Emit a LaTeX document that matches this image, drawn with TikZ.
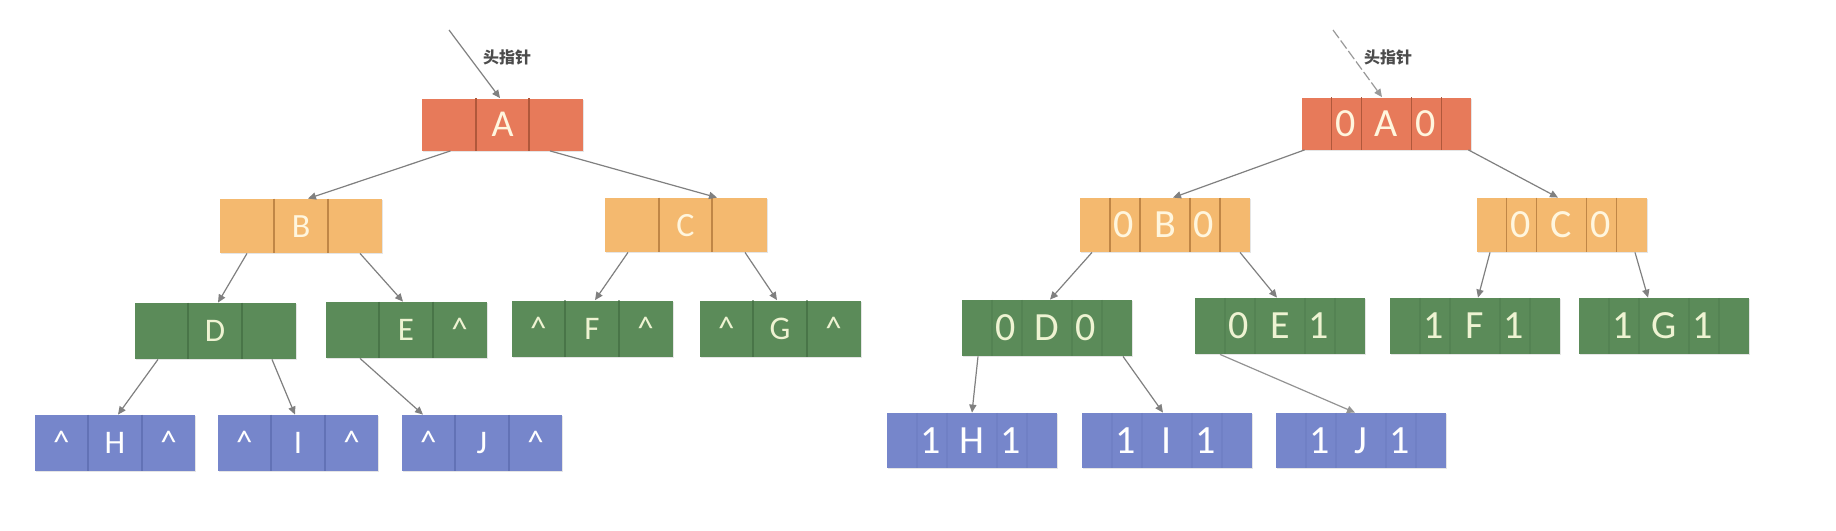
\documentclass[tikz,border=0pt]{standalone}
\usepackage{fontspec}
\setmainfont{Carlito}
\newfontfamily\cjk{Noto Sans CJK SC}
\usetikzlibrary{calc,arrows.meta,shadows}
\definecolor{cA}{HTML}{E77A5A}
\definecolor{cAd}{HTML}{B0583B}
\definecolor{cB}{HTML}{F4B96F}
\definecolor{cBd}{HTML}{C08646}
\definecolor{cG}{HTML}{5B8B59}
\definecolor{cGd}{HTML}{3C643B}
\definecolor{cU}{HTML}{7686CB}
\definecolor{cUd}{HTML}{5262A6}
\definecolor{ln}{HTML}{808080}
\definecolor{tcream}{HTML}{FFF6DE}
\definecolor{tgreen}{HTML}{EEF3D2}

\newcommand\tribox[6]{%
  \node[box,#3] (#1) at (#2) {};
  \draw[#3 div] ($(#1.north)+(-26.8,0)$) -- ($(#1.south)+(-26.8,0)$);
  \draw[#3 div] ($(#1.north)+(26.8,0)$) -- ($(#1.south)+(26.8,0)$);
  \if\relax\detokenize{#4}\relax\else\node[#3 txt] (#1l) at ($(#1.center)+(-53.7,0)$) {#4};\fi
  \if\relax\detokenize{#5}\relax\else\node[#3 txt] (#1m) at (#1.center) {#5};\fi
  \if\relax\detokenize{#6}\relax\else\node[#3 txt] (#1r) at ($(#1.center)+(53.7,0)$) {#6};\fi
}
\newcommand\pentbox[6]{%
  \node[box,#3] (#1) at (#2) {};
  \foreach \dx in {-55,-25,25,55} {\draw[#3 div] ($(#1.north)+(\dx,0)$) -- ($(#1.south)+(\dx,0)$);}
  \node[#3 txt] (#1l) at ($(#1.center)+(-41,0)$) {#4};
  \node[#3 txt] (#1m) at (#1.center) {#5};
  \node[#3 txt] (#1r) at ($(#1.center)+(39,0)$) {#6};
}

\begin{document}
\begin{tikzpicture}[x=0.5pt,y=-0.5pt,
  box/.style={rectangle, inner sep=0pt, draw=none,
    drop shadow={opacity=0.2, shadow xshift=0.7pt, shadow yshift=-0.7pt}},
  lA/.style={fill=cA, minimum width=80.5pt, minimum height=26pt},
  lA div/.style={draw=cAd, line width=0.9pt},
  lA txt/.style={text=tcream, inner sep=0pt, font=\fontsize{19}{20}\selectfont, text height=12.2pt, text depth=0pt},
  lB/.style={fill=cB, minimum width=81pt, minimum height=27pt},
  lB div/.style={draw=cBd, line width=0.9pt},
  lB txt/.style={text=tcream, inner sep=0pt, font=\fontsize{17}{18}\selectfont, text height=11pt, text depth=0pt},
  lG/.style={fill=cG, minimum width=80.5pt, minimum height=28pt},
  lG div/.style={draw=cGd, line width=0.8pt, opacity=0.55},
  lG txt/.style={text=tgreen, inner sep=0pt, font=\fontsize{16.5}{18}\selectfont, text height=10.6pt, text depth=0pt},
  lU/.style={fill=cU, minimum width=80pt, minimum height=28pt},
  lU div/.style={draw=cUd, line width=0.8pt, opacity=0.55},
  lU txt/.style={text=white, inner sep=0pt, font=\fontsize{16.5}{18}\selectfont, text height=10.6pt, text depth=0pt},
  rA/.style={fill=cA, minimum width=84.5pt, minimum height=26pt},
  rA div/.style={draw=cAd, line width=0.9pt},
  rA txt/.style={text=tcream, inner sep=0pt, font=\fontsize{20}{22}\selectfont, text height=12.9pt, text depth=0pt},
  rB/.style={fill=cB, minimum width=85pt, minimum height=27pt},
  rB div/.style={draw=cBd, line width=0.9pt},
  rB txt/.style={text=tcream, inner sep=0pt, font=\fontsize{20}{22}\selectfont, text height=12.9pt, text depth=0pt},
  rG/.style={fill=cG, minimum width=85pt, minimum height=28pt},
  rG div/.style={draw=cGd, line width=0.8pt, opacity=0.2},
  rG txt/.style={text=tgreen, inner sep=0pt, font=\fontsize{20}{22}\selectfont, text height=12.9pt, text depth=0pt},
  rU/.style={fill=cU, minimum width=85pt, minimum height=27.5pt},
  rU div/.style={draw=cUd, line width=0.8pt, opacity=0.15},
  rU txt/.style={text=white, inner sep=0pt, font=\fontsize{20}{22}\selectfont, text height=12.9pt, text depth=0pt},
  arr/.style={draw=ln, line width=0.6pt, -{Triangle[length=4pt,width=3.6pt]}},
  headlbl/.style={inner sep=0pt, text=black!70, font=\cjk\bfseries\fontsize{8}{9}\selectfont}
]
\fill[white] (0,0) rectangle (1836,530);
\useasboundingbox (0,0) rectangle (1836,530);

% ---------- left tree ----------
\tribox{A}{502.5,124.5}{lA}{}{A}{}
\tribox{B}{301,226}{lB}{}{B}{}
\tribox{C}{685.5,225}{lB}{}{C}{}
\tribox{D}{215,331}{lG}{}{D}{}
\tribox{E}{406,330}{lG}{}{E}{\textasciicircum}
\tribox{F}{592,328.5}{lG}{\textasciicircum}{F}{\textasciicircum}
\tribox{G}{780,328.5}{lG}{\textasciicircum}{G}{\textasciicircum}
\tribox{H}{115,443}{lU}{\textasciicircum}{H}{\textasciicircum}
\tribox{I}{298,443}{lU}{\textasciicircum}{I}{\textasciicircum}
\tribox{J}{482,443}{lU}{\textasciicircum}{J}{\textasciicircum}

\coordinate (hsL) at (449,30);
\node[headlbl] (hlL) at (507,57) {头指针};
\draw[arr] (hsL) -- ($(A.north)+(-2.5,0)$);
\draw[arr] ($(A.south)+(-52,0)$) -- ($(B.north)+(7,0)$);
\draw[arr] ($(A.south)+(47.5,0)$) -- ($(C.north)+(31.5,0)$);
\draw[arr] ($(B.south)+(-54,0)$) -- ($(D.north)+(3,0)$);
\draw[arr] ($(B.south)+(59,0)$) -- ($(E.north)+(-3,0)$);
\draw[arr] ($(C.south)+(-57.5,0)$) -- ($(F.north)+(3,0)$);
\draw[arr] ($(C.south)+(59.5,0)$) -- ($(G.north)+(-3,0)$);
\draw[arr] ($(D.south)+(-57,0)$) -- ($(H.north)+(3,0)$);
\draw[arr] ($(D.south)+(57,0)$) -- ($(I.north)+(-3,0)$);
\draw[arr] ($(E.south)+(-46,0)$) -- ($(J.north)+(-59,0)$);

% ---------- right tree ----------
\pentbox{A2}{1386.5,123.5}{rA}{0}{A}{0}
\pentbox{B2}{1165,225}{rB}{0}{B}{0}
\pentbox{C2}{1561.5,225}{rB}{0}{C}{0}
\pentbox{D2}{1047,328}{rG}{0}{D}{0}
\pentbox{E2}{1280,326}{rG}{0}{E}{1}
\pentbox{F2}{1475,326}{rG}{1}{F}{1}
\pentbox{G2}{1664,326}{rG}{1}{G}{1}
\pentbox{H2}{972,440.5}{rU}{1}{H}{1}
\pentbox{I2}{1167,440.5}{rU}{1}{I}{1}
\pentbox{J2}{1361,440.5}{rU}{1}{J}{1}

\coordinate (hsR) at (1333,30);
\node[headlbl] (hlR) at (1388,57) {头指针};
\draw[arr, draw=ln!80, dash pattern=on 5pt off 1.5pt] (hsR) -- ($(A2.north)+(-4.5,0)$);
\draw[arr] ($(A2.south west)+(3,0)$) -- ($(B2.north)+(8,0)$);
\draw[arr] ($(A2.south east)+(-3,0)$) -- ($(C2.north)+(-3.5,0)$);
\draw[arr] ($(B2.south)+(-73,0)$) -- ($(D2.north)+(3,0)$);
\draw[arr] ($(B2.south)+(75,0)$) -- ($(E2.north)+(-3,0)$);
\draw[arr] ($(C2.south)+(-71.5,0)$) -- ($(F2.north)+(3,0)$);
\draw[arr] ($(C2.south)+(73.5,0)$) -- ($(G2.north)+(-16,0)$);
\draw[arr] ($(D2.south)+(-69,0)$) -- ($(H2.north)+(0,0)$);
\draw[arr] ($(D2.south)+(76,0)$) -- ($(I2.north)+(-4,0)$);
\draw[arr, draw=ln!85] ($(E2.south)+(-60,0)$) -- ($(J2.north)+(-6,0)$);
\end{tikzpicture}
\end{document}
